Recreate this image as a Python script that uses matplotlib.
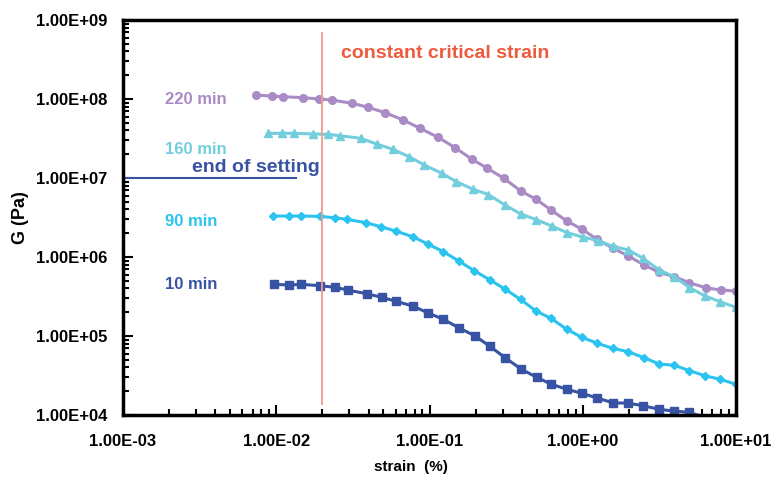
import numpy as np
import matplotlib
matplotlib.use("Agg")
import matplotlib.pyplot as plt
from matplotlib.ticker import LogLocator, FuncFormatter, NullFormatter

plt.rcParams['font.family'] = ['Liberation Sans', 'DejaVu Sans']

# strain (%) and G (Pa)
strain_10 = [0.0097, 0.0122, 0.0146, 0.0193, 0.0243, 0.0292, 0.0389, 0.0488, 0.0604, 0.0776,
             0.0973, 0.123, 0.155, 0.197, 0.247, 0.312, 0.397, 0.501, 0.624, 0.785,
             0.989, 1.245, 1.567, 1.98, 2.48, 3.15, 3.96, 4.96, 6.28]
g_10 = [4.51e5, 4.42e5, 4.51e5, 4.33e5, 4.13e5, 3.82e5, 3.43e5, 3.09e5, 2.75e5, 2.40e5,
        1.97e5, 1.63e5, 1.27e5, 1.01e5, 7.43e4, 5.30e4, 3.80e4, 3.00e4, 2.45e4, 2.12e4,
        1.88e4, 1.64e4, 1.43e4, 1.41e4, 1.31e4, 1.18e4, 1.12e4, 1.08e4, 9.3e3]

strain_90 = [0.00957, 0.0121, 0.0145, 0.0193, 0.0242, 0.0288, 0.0385, 0.0481, 0.0601, 0.0776,
             0.0973, 0.123, 0.155, 0.196, 0.248, 0.312, 0.393, 0.496, 0.621, 0.785,
             0.984, 1.245, 1.567, 1.98, 2.51, 3.15, 3.96, 4.96, 6.28, 7.87, 10.0]
g_90 = [3.30e6, 3.30e6, 3.30e6, 3.27e6, 3.14e6, 3.00e6, 2.72e6, 2.42e6, 2.13e6, 1.81e6,
        1.46e6, 1.17e6, 8.90e5, 6.71e5, 5.12e5, 3.91e5, 2.90e5, 2.07e5, 1.67e5, 1.22e5,
        9.63e4, 8.09e4, 6.98e4, 6.33e4, 5.31e4, 4.42e4, 4.26e4, 3.64e4, 3.14e4, 2.83e4, 2.45e4]

strain_160 = [0.00887, 0.0109, 0.0131, 0.0175, 0.0219, 0.0261, 0.0356, 0.0452, 0.0575, 0.0738,
              0.0925, 0.120, 0.150, 0.193, 0.242, 0.311, 0.394, 0.496, 0.627, 0.793,
              1.0, 1.26, 1.58, 1.98, 2.48, 3.15, 3.95, 4.96, 6.28, 7.87, 10.0]
g_160 = [3.68e7, 3.68e7, 3.68e7, 3.61e7, 3.57e7, 3.43e7, 3.18e7, 2.69e7, 2.31e7, 1.86e7,
         1.46e7, 1.15e7, 8.98e6, 7.19e6, 6.18e6, 4.55e6, 3.50e6, 2.98e6, 2.47e6, 2.03e6,
         1.79e6, 1.61e6, 1.36e6, 1.23e6, 9.63e5, 6.84e5, 5.63e5, 4.11e5, 3.21e5, 2.72e5, 2.30e5]

strain_220 = [0.00738, 0.00942, 0.0111, 0.0150, 0.0190, 0.0230, 0.0313, 0.0399, 0.0513, 0.0675,
              0.0867, 0.114, 0.147, 0.188, 0.238, 0.306, 0.394, 0.496, 0.621, 0.785,
              0.99, 1.245, 1.58, 1.98, 2.51, 3.15, 3.96, 4.96, 6.34, 7.95, 10.0]
g_220 = [1.12e8, 1.09e8, 1.07e8, 1.04e8, 1.00e8, 9.71e7, 8.83e7, 7.85e7, 6.71e7, 5.42e7,
         4.26e7, 3.27e7, 2.42e7, 1.74e7, 1.33e7, 9.91e6, 6.84e6, 5.37e6, 3.94e6, 2.86e6,
         2.24e6, 1.67e6, 1.29e6, 1.03e6, 7.92e5, 6.40e5, 5.63e5, 4.73e5, 4.08e5, 3.82e5, 3.71e5]

critical_strain = 0.02
end_of_setting = 1e7

c10 = '#3953A4'
c90 = '#2BC3EF'
c160 = '#72CEDD'
c220 = '#A98BC5'

fig = plt.figure(figsize=(7.72, 4.8), dpi=100)
ax = fig.add_axes([0.1593, 0.1354, 0.7941, 0.8229])

ax.plot(strain_220, g_220, '-o', color=c220, lw=2.2, ms=5.5)
ax.plot(strain_160, g_160, '-^', color=c160, lw=2.2, ms=6)
ax.plot(strain_90, g_90, '-D', color=c90, lw=2.2, ms=4)
ax.plot(strain_10, g_10, '-s', color=c10, lw=2.2, ms=5.5, markevery=slice(0, len(g_10) - 1))

ax.plot([critical_strain, critical_strain], [6.8e8, 1.38e4], color='#F29A8C', lw=1.3)
ax.plot([1e-3, 0.0135], [end_of_setting, end_of_setting], color=c10, lw=1.5)

ax.set_xscale('log')
ax.set_yscale('log')
ax.set_xlim(1e-3, 10)
ax.set_ylim(1e4, 1e9)

fmt = FuncFormatter(lambda v, p: f"{v:.2E}")
ax.xaxis.set_major_formatter(fmt)
ax.yaxis.set_major_formatter(fmt)
ax.xaxis.set_major_locator(LogLocator(base=10, numticks=10))
ax.yaxis.set_major_locator(LogLocator(base=10, numticks=10))
ax.xaxis.set_minor_locator(LogLocator(base=10, subs=np.arange(2, 10), numticks=20))
ax.yaxis.set_minor_locator(LogLocator(base=10, subs=np.arange(2, 10), numticks=20))
ax.xaxis.set_minor_formatter(NullFormatter())
ax.yaxis.set_minor_formatter(NullFormatter())

ax.tick_params(which='both', direction='in', width=1.5, top=False, right=False)
ax.tick_params(which='major', length=7, labelsize=12)
ax.tick_params(axis='y', which='major', pad=11)
ax.tick_params(axis='x', which='major', pad=14)
ax.tick_params(which='minor', length=4)
for lab in ax.get_xticklabels() + ax.get_yticklabels():
    lab.set_fontweight('bold')
for sp in ax.spines.values():
    sp.set_linewidth(2.5)

ax.set_xlabel('strain  (%)', fontsize=11, fontweight='bold')
ax.xaxis.set_label_coords(0.47, -0.115)
ax.set_ylabel('G (Pa)', fontsize=13, fontweight='bold', labelpad=5)

ax.text(0.00188, 1.0e8, '220 min', color=c220, fontsize=12, fontweight='bold', va='center')
ax.text(0.00188, 2.3e7, '160 min', color=c160, fontsize=12, fontweight='bold', va='center')
ax.text(0.00188, 2.8e6, '90 min', color=c90, fontsize=12, fontweight='bold', va='center')
ax.text(0.00188, 4.5e5, '10 min', color=c10, fontsize=12, fontweight='bold', va='center')
ax.text(0.00282, 1.05e7, 'end of setting', color=c10, fontsize=14, fontweight='bold', va='bottom')
ax.text(0.0265, 3.8e8, 'constant critical strain', color='#EE5A3C', fontsize=14,
        fontweight='bold', va='center')

plt.savefig('out.png', dpi=100)
